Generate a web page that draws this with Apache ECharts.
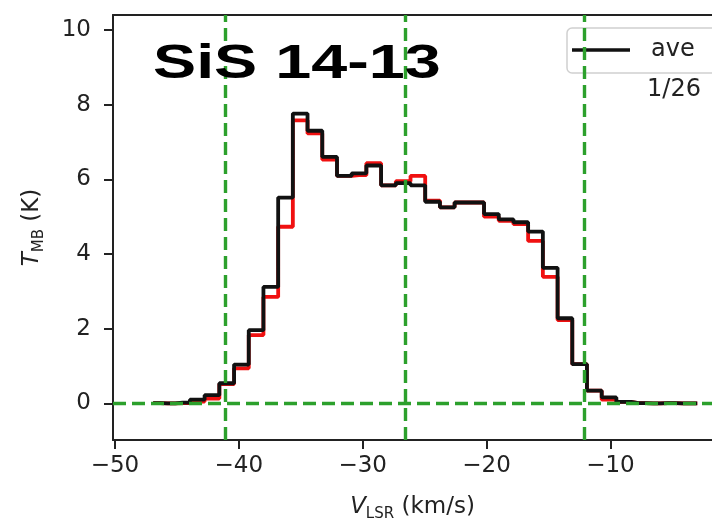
<!DOCTYPE html>
<html>
<head>
<meta charset="utf-8">
<script src="https://cdn.jsdelivr.net/npm/echarts@6/dist/echarts.min.js"></script>
<style>
html, body { margin: 0; padding: 0; background: #fff; }
#chart { width: 712px; height: 521px; }
</style>
</head>
<body>
<div id="chart"></div>
<script>
// channel centres, km/s
var vel = [-46.92, -45.73, -44.54, -43.36, -42.17, -40.98, -39.79, -38.61, -37.42, -36.23,
  -35.05, -33.86, -32.67, -31.48, -30.30, -29.11, -27.92, -26.73, -25.55, -24.36,
  -23.17, -21.99, -20.80, -19.61, -18.42, -17.24, -16.05, -14.86, -13.67, -12.49,
  -11.30, -10.11, -8.93, -7.74, -6.55, -5.36, -4.18, -2.99]
// averaged spectrum (black)
var aveT = [0.01, 0.00, 0.02, 0.10, 0.22, 0.54, 1.04, 1.96, 3.12, 5.51,
  7.76, 7.30, 6.60, 6.09, 6.16, 6.37, 5.84, 5.90, 5.84, 5.40,
  5.25, 5.38, 5.38, 5.07, 4.93, 4.85, 4.60, 3.63, 2.28, 1.05,
  0.34, 0.16, 0.04, 0.01, 0.00, 0.01, 0.00, 0.00]
// single position 1/26 (red)
var oneT = [0.01, 0.00, 0.01, 0.05, 0.13, 0.52, 0.94, 1.83, 2.85, 4.73,
  7.58, 7.23, 6.53, 6.09, 6.11, 6.43, 5.84, 5.95, 6.09, 5.43,
  5.25, 5.38, 5.38, 5.00, 4.89, 4.80, 4.35, 3.39, 2.23, 1.05,
  0.34, 0.10, 0.04, 0.01, 0.00, 0.01, 0.00, 0.00]
var guideVel = [-41.1, -26.6, -12.1]
var xTicks = [-50, -40, -30, -20, -10]
var yTicks = [0, 2, 4, 6, 8, 10]

var green = '#2ca02c'
var ink = '#222'
var font = 'DejaVu Sans'
var xMin = -50.16, xMax = -1.8

function pairs(ys) {
  return vel.map(function (v, i) { return [v, ys[i]] })
}
function minus(v) {
  return String(v).replace('-', '\u2212')
}

var chart = echarts.init(document.getElementById('chart'), null, { renderer: 'canvas' })

var guideLines = guideVel.map(function (v) { return { xAxis: v } })
guideLines.push({ yAxis: 0 })

chart.setOption({
  animation: false,
  grid: { left: 113, right: 0, top: 15, bottom: 81, outerBoundsMode: 'none' },
  legend: {
    data: ['ave'],
    left: 567, top: 28,
    padding: [10, 24, 11, 5],
    icon: 'rect', itemWidth: 58, itemHeight: 3.5,
    backgroundColor: 'rgba(255,255,255,0.8)',
    borderColor: '#d0d0d0', borderWidth: 1.5, borderRadius: 5,
    textStyle: { fontFamily: font, fontSize: 24, color: ink, lineHeight: 24, padding: [0, 0, 0, 16] }
  },
  xAxis: [{
    type: 'value', min: xMin, max: xMax,
    splitLine: { show: false },
    axisLine: { onZero: false, lineStyle: { color: ink, width: 2 } },
    axisTick: { customValues: xTicks, length: 9, lineStyle: { color: ink, width: 2 } },
    axisLabel: { customValues: xTicks, margin: 15, fontFamily: font, fontSize: 23, color: ink, formatter: minus },
    name: '{v|V}{s|LSR}{n| (km/s)}',
    nameLocation: 'middle', nameGap: 52,
    nameTextStyle: {
      fontFamily: font, fontSize: 23, color: ink,
      rich: {
        v: { fontFamily: font, fontSize: 23, fontStyle: 'italic', color: ink, lineHeight: 30, verticalAlign: 'middle' },
        s: { fontFamily: font, fontSize: 15, color: ink, lineHeight: 30, verticalAlign: 'bottom' },
        n: { fontFamily: font, fontSize: 23, color: ink, lineHeight: 30, verticalAlign: 'middle' }
      }
    }
  }, {
    // top spine only
    type: 'value', position: 'top', min: xMin, max: xMax,
    splitLine: { show: false },
    axisLine: { onZero: false, lineStyle: { color: ink, width: 2 } },
    axisTick: { show: false },
    axisLabel: { show: false }
  }],
  yAxis: {
    type: 'value', min: -0.98, max: 10.4,
    splitLine: { show: false },
    axisLine: { onZero: false, lineStyle: { color: ink, width: 2 } },
    axisTick: { customValues: yTicks, length: 9, lineStyle: { color: ink, width: 2 } },
    axisLabel: { customValues: yTicks, margin: 22, fontFamily: font, fontSize: 23, color: ink },
    name: '{t|T}{s|MB}{n| (K)}',
    nameLocation: 'middle', nameRotate: 90, nameGap: 66,
    nameTextStyle: {
      fontFamily: font, fontSize: 23, color: ink,
      rich: {
        t: { fontFamily: font, fontSize: 23, fontStyle: 'italic', color: ink, lineHeight: 30, verticalAlign: 'middle' },
        s: { fontFamily: font, fontSize: 15, color: ink, lineHeight: 30, verticalAlign: 'bottom' },
        n: { fontFamily: font, fontSize: 23, color: ink, lineHeight: 30, verticalAlign: 'middle' }
      }
    }
  },
  graphic: [
    {
      type: 'text', x: 153, y: 64, scaleX: 1.32, z: 10,
      style: { text: 'SiS 14-13', font: 'bold 49px "Liberation Sans"', fill: '#000', verticalAlign: 'middle' }
    },
    {
      type: 'text', x: 674, y: 90, z: 10,
      style: { text: '1/26', font: '24px "DejaVu Sans"', fill: ink, align: 'center', verticalAlign: 'middle' }
    }
  ],
  series: [
    {
      name: 'guides', type: 'line', data: [], z: 1, silent: true,
      markLine: {
        silent: true, symbol: 'none', animation: false,
        label: { show: false },
        lineStyle: { color: green, width: 3.4, type: [13, 6] },
        data: guideLines
      }
    },
    {
      name: 'one', type: 'line', step: 'middle', symbol: 'none', z: 2,
      lineStyle: { color: '#f01010', width: 3.8 },
      itemStyle: { color: '#f01010' },
      data: pairs(oneT)
    },
    {
      name: 'ave', type: 'line', step: 'middle', symbol: 'none', z: 3,
      lineStyle: { color: '#111', width: 3.8 },
      itemStyle: { color: '#111' },
      data: pairs(aveT)
    }
  ]
})
</script>
</body>
</html>
